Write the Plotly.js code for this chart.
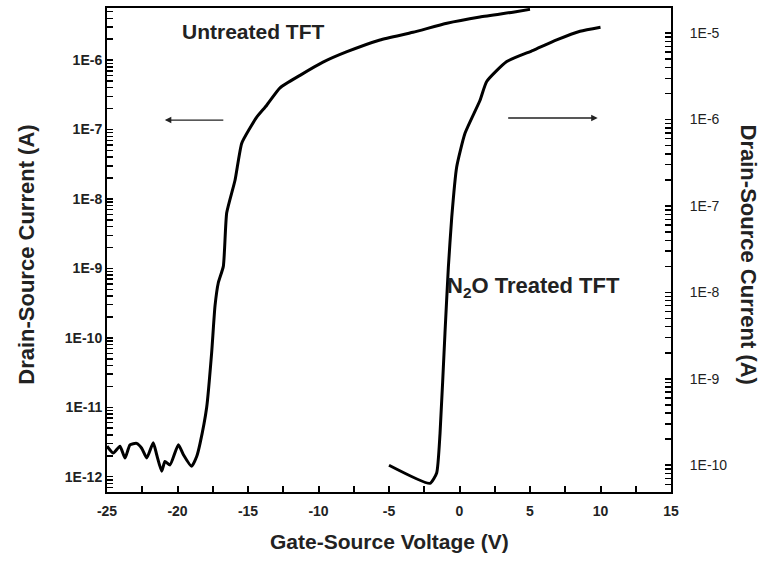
<!DOCTYPE html>
<html>
<head>
<meta charset="utf-8">
<script src="https://cdn.plot.ly/plotly-3.0.1.min.js"></script>
<style>html,body{margin:0;padding:0;background:#fff;}#chart{width:760px;height:564px;}</style>
</head>
<body>
<div id="chart"></div>
<script>
// Untreated TFT (left axis)
var untreatedV = [-25.0,-24.55,-24.08,-23.72,-23.37,-22.9,-22.54,-22.18,-21.72,-21.48,-21.12,-20.89,-20.53,-19.94,-19.59,-19.0,-18.64,-18.40,-17.93,-17.58,-17.34,-17.11,-16.75,-16.51,-15.92,-15.45,-14.86,-14.38,-13.67,-12.73,-11.31,-9.68,-7.98,-5.64,-3.30,-0.89,1.45,3.79,5.0];
var untreatedI = [2.75e-12,2.19e-12,2.75e-12,1.86e-12,2.88e-12,3.02e-12,2.57e-12,1.86e-12,3.09e-12,2.09e-12,1.20e-12,1.66e-12,1.48e-12,2.88e-12,2.09e-12,1.41e-12,1.95e-12,3.02e-12,1.0e-11,6.03e-11,2.88e-10,6.17e-10,1.07e-9,6.31e-9,1.86e-8,6.31e-8,1.05e-7,1.51e-7,2.24e-7,3.98e-7,6.03e-7,9.33e-7,1.32e-6,1.95e-6,2.51e-6,3.39e-6,4.17e-6,4.90e-6,5.37e-6];
// N2O treated TFT (right axis)
var treatedV = [-5.0,-2.09,-1.62,-1.38,-1.03,-0.79,-0.55,-0.20,0.39,1.45,1.93,3.35,5.23,6.89,8.55,10.0];
var treatedI = [1.0e-10,6.17e-11,8.13e-11,2.34e-10,3.39e-9,1.95e-8,7.41e-8,2.82e-7,6.92e-7,1.66e-6,2.75e-6,4.68e-6,6.31e-6,8.32e-6,1.05e-5,1.17e-5];

var xTicks = [-25,-20,-15,-10,-5,0,5,10,15];
var xTickText = ['-25','-20','-15','-10','-5','0','5','10','15'];
var xMinorTicks = [-22.5,-17.5,-12.5,-7.5,-2.5,2.5,7.5,12.5];
var leftTickVals = [1e-12,1e-11,1e-10,1e-9,1e-8,1e-7,1e-6];
var leftTickText = ['1E-12','1E-11','1E-10','1E-9','1E-8','1E-7','1E-6'];
var rightTickVals = [1e-10,1e-9,1e-8,1e-7,1e-6,1e-5];
var rightTickText = ['1E-10','1E-9','1E-8','1E-7','1E-6','1E-5'];

// combine labelled ticks with unlabelled minor ticks
function withMinor(vals, texts, minors){
  var v = vals.slice(), t = texts.slice();
  minors.forEach(function(m){ v.push(m); t.push(''); });
  return {vals:v, text:t};
}
function logMinors(lo, hi){
  var out = [];
  for (var e = lo; e <= hi; e++){
    for (var m = 2; m <= 9; m++){ out.push(m * Math.pow(10, e)); }
  }
  return out;
}
var xT = withMinor(xTicks, xTickText, xMinorTicks);
var lT = withMinor(leftTickVals, leftTickText, logMinors(-13,-5));
var rT = withMinor(rightTickVals, rightTickText, logMinors(-11,-5));

var FONT = 'Liberation Sans, Arial, sans-serif';
var LEFT_RANGE = [-12.22,-5.25];
var RIGHT_RANGE = [-10.31,-4.71];

var lineStyle = {color:'#000', width:3, shape:'spline', smoothing:0.5};
var traces = [
  {x: untreatedV, y: untreatedI, type:'scatter', mode:'lines', line:lineStyle, xaxis:'x', yaxis:'y', showlegend:false},
  {x: treatedV, y: treatedI, type:'scatter', mode:'lines', line:lineStyle, xaxis:'x', yaxis:'y2', showlegend:false}
];

var tickFontL = {size:14, family:FONT, color:'#222', weight:'bold'};
var tickFontR = {size:14, family:FONT, color:'#222'};

var layout = {
  width:760, height:564,
  margin:{l:107, r:89, t:8, b:72},
  paper_bgcolor:'#fff', plot_bgcolor:'#fff',
  font:{family:FONT, color:'#111'},
  xaxis:{
    range:[-25,15], tickmode:'array', tickvals:xT.vals, ticktext:xT.text,
    ticks:'inside', ticklen:6, tickwidth:2, tickcolor:'#000', ticklabelstandoff:5,
    showline:true, linecolor:'#000', linewidth:2, mirror:true,
    showgrid:false, zeroline:false,
    tickfont:tickFontL
  },
  yaxis:{
    type:'log', range:LEFT_RANGE,
    tickmode:'array', tickvals:lT.vals, ticktext:lT.text,
    ticks:'inside', ticklen:6, tickwidth:1.5, tickcolor:'#000',
    showline:true, linecolor:'#000', linewidth:2,
    showgrid:false, zeroline:false,
    tickfont:tickFontL
  },
  yaxis2:{
    type:'log', range:RIGHT_RANGE, overlaying:'y', side:'right', anchor:'x',
    tickmode:'array', tickvals:rT.vals, ticktext:rT.text,
    ticks:'inside', ticklen:6, tickwidth:1.5, tickcolor:'#000', ticklabelstandoff:14,
    showline:true, linecolor:'#000', linewidth:2,
    showgrid:false, zeroline:false,
    tickfont:tickFontR
  },
  annotations:[
    {xref:'paper', yref:'paper', x:-0.142, y:0.49, xanchor:'center', yanchor:'middle', text:'<b>Drain-Source Current (A)</b>', textangle:-90, showarrow:false, font:{size:22, family:FONT, color:'#222'}},
    {xref:'paper', yref:'paper', x:1.137, y:0.49, xanchor:'center', yanchor:'middle', text:'<b>Drain-Source Current (A)</b>', textangle:90, showarrow:false, font:{size:22, family:FONT, color:'#222'}},
    {xref:'paper', yref:'paper', x:0.5, y:-0.103, xanchor:'center', yanchor:'middle', text:'<b>Gate-Source Voltage (V)</b>', showarrow:false, font:{size:21, family:FONT, color:'#222'}},
    {xref:'x', yref:'y', x:-19.8, y:Math.log10(2.6e-6), xanchor:'left', yanchor:'middle', text:'<b>Untreated TFT</b>', showarrow:false, font:{size:21, family:FONT, color:'#222'}},
    {xref:'x', yref:'y2', x:-1.0, y:Math.log10(1.15e-8), xanchor:'left', yanchor:'middle', text:'<b>N<sub>2</sub>O Treated TFT</b>', showarrow:false, font:{size:22, family:FONT, color:'#222'}},
    {xref:'x', yref:'y', x:-20.9, y:Math.log10(1.37e-7), ax:60, ay:0, text:'', showarrow:true, arrowhead:2, arrowsize:1, arrowwidth:1.3, arrowcolor:'#222'},
    {xref:'x', yref:'y2', x:9.8, y:Math.log10(1.04e-6), ax:-91, ay:0, text:'', showarrow:true, arrowhead:2, arrowsize:1, arrowwidth:1.3, arrowcolor:'#222'}
  ]
};

Plotly.newPlot('chart', traces, layout, {displayModeBar:false, staticPlot:true});
</script>
</body>
</html>
